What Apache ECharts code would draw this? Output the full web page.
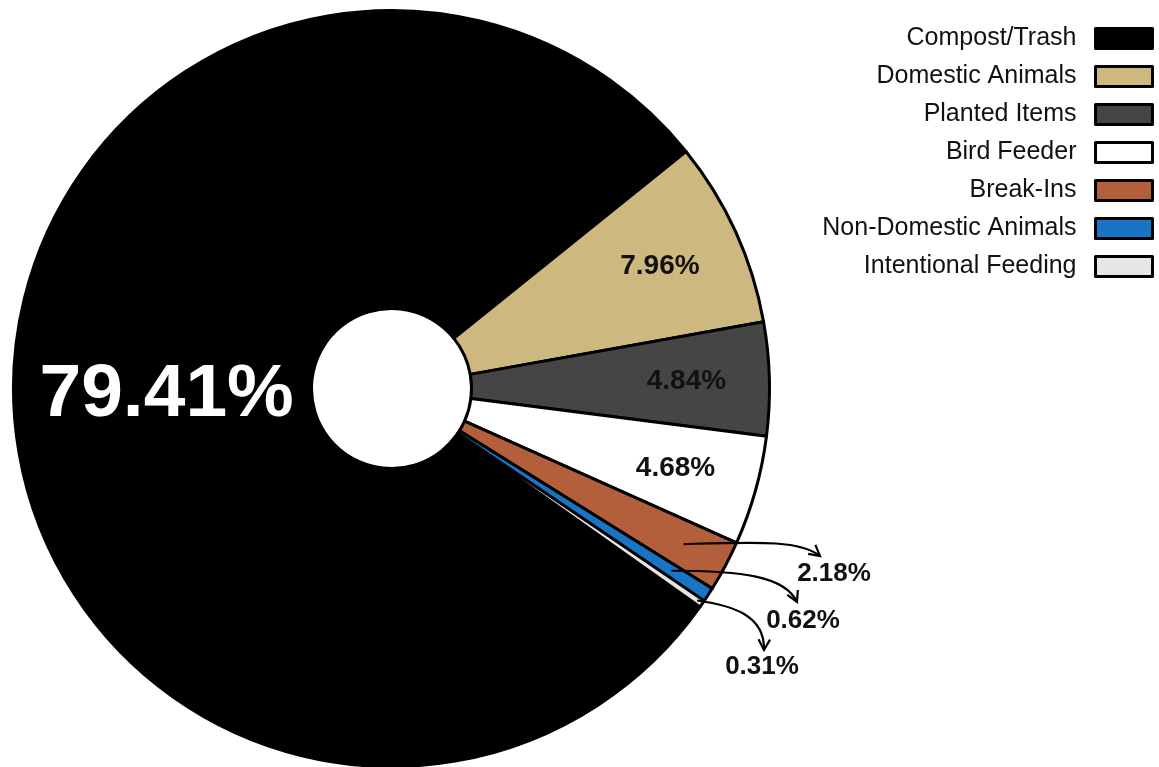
<!DOCTYPE html>
<html>
<head>
<meta charset="utf-8">
<script src="https://cdn.jsdelivr.net/npm/echarts@6/dist/echarts.min.js"></script>
<style>
  html, body { margin: 0; padding: 0; background: #fff; }
  #chart { width: 1159px; height: 767px; }
</style>
</head>
<body>
<div id="chart"></div>
<script>
// Share of incidents by attractant
const categories = [
  'Compost/Trash',
  'Domestic Animals',
  'Planted Items',
  'Bird Feeder',
  'Break-Ins',
  'Non-Domestic Animals',
  'Intentional Feeding'
];
const shares = [79.41, 7.96, 4.84, 4.68, 2.18, 0.62, 0.31];
const sliceColors = ['#000000', '#cdb880', '#454545', '#ffffff', '#b45f3b', '#1a74c6', '#e6e6e6'];

// Ring geometry
const CX = 391.5, CY = 388.5, R = 378, R0 = 80;
const START = -35.3;          // degrees, clockwise from here
const FONT = 'Liberation Sans, Arial, Helvetica, sans-serif';

// Small slices get their labels outside, joined by curved arrows
const outsideLabelPos = { 4: [834, 574], 5: [803, 621], 6: [762, 667] };
const arrowSpec = {
  4: { r: 331, c1: [75, -2], c2: [-20, -16], tip: [-14, -18] },
  5: { r: 334, c1: [70, 0], c2: [-12, -26], tip: [-6, -19] },
  6: { r: 372, c1: [35, 5], c2: [1, -35], tip: [2, -17] }
};

const total = shares.reduce((a, b) => a + b, 0);
function midAngle(i) {
  let before = 0;
  for (let k = 0; k < i; k++) before += shares[k];
  return START - (before + shares[i] / 2) / total * 360;
}
function polar(r, deg) {
  const a = deg * Math.PI / 180;
  return [CX + r * Math.cos(a), CY - r * Math.sin(a)];
}

function arrowGraphics() {
  const out = [];
  Object.keys(arrowSpec).forEach(function (key) {
    const i = +key, s = arrowSpec[key];
    const p0 = polar(s.r, midAngle(i));
    const lp = outsideLabelPos[i];
    const p3 = [lp[0] + s.tip[0], lp[1] + s.tip[1]];
    const c1 = [p0[0] + s.c1[0], p0[1] + s.c1[1]];
    const c2 = [p3[0] + s.c2[0], p3[1] + s.c2[1]];
    out.push({
      type: 'bezierCurve', silent: true, z: 10,
      shape: { x1: p0[0], y1: p0[1], cpx1: c1[0], cpy1: c1[1], cpx2: c2[0], cpy2: c2[1], x2: p3[0], y2: p3[1] },
      style: { stroke: '#000', lineWidth: 2.2, fill: null }
    });
    const dir = Math.atan2(p3[1] - c2[1], p3[0] - c2[0]);
    const len = 12, spread = 0.5;
    out.push({
      type: 'polyline', silent: true, z: 10,
      shape: { points: [
        [p3[0] - len * Math.cos(dir - spread), p3[1] - len * Math.sin(dir - spread)],
        p3,
        [p3[0] - len * Math.cos(dir + spread), p3[1] - len * Math.sin(dir + spread)]
      ] },
      style: { stroke: '#000', lineWidth: 2.2, fill: null }
    });
  });
  return out;
}

const ringData = categories.map(function (name, i) {
  return {
    name: name,
    value: shares[i],
    itemStyle: { color: sliceColors[i] },
    label: i === 0
      ? { show: true, position: 'inside', color: '#fff', fontSize: 75, fontWeight: 'bold', fontFamily: FONT, padding: [0, 0, 0, 14] }
      : { show: false }
  };
});

const labelData = categories.map(function (name, i) {
  return {
    name: name,
    value: shares[i],
    label: { show: i > 0 }
  };
});

const chart = echarts.init(document.getElementById('chart'), null, { renderer: 'canvas' });
chart.setOption({
  backgroundColor: '#ffffff',
  animation: false,
  legend: {
    orient: 'vertical',
    right: 0,
    top: 21,
    align: 'right',
    icon: 'rect',
    itemWidth: 57,
    itemHeight: 20,
    itemGap: 13,
    selectedMode: false,
    data: categories,
    itemStyle: { borderColor: '#000', borderWidth: 3 },
    textStyle: { fontFamily: FONT, fontSize: 25, color: '#111', lineHeight: 20, padding: [0, 14, 0, 0] }
  },
  graphic: arrowGraphics(),
  series: [
    {
      type: 'pie',
      name: 'ring',
      center: [CX, CY],
      radius: [R0, R],
      startAngle: START,
      clockwise: true,
      avoidLabelOverlap: false,
      silent: true,
      emphasis: { disabled: true },
      itemStyle: { borderColor: '#000', borderWidth: 3 },
      labelLine: { show: false },
      label: { formatter: function (p) { return p.value.toFixed(2) + '%'; } },
      data: ringData
    },
    {
      type: 'pie',
      name: 'labels',
      center: [CX, CY],
      radius: [206, R],
      startAngle: START,
      clockwise: true,
      avoidLabelOverlap: false,
      silent: true,
      emphasis: { disabled: true },
      z: 5,
      itemStyle: { color: 'rgba(0,0,0,0)', borderWidth: 0 },
      labelLine: { show: false },
      label: {
        position: 'inside',
        color: '#111',
        fontSize: 28,
        fontWeight: 'bold',
        fontFamily: FONT,
        formatter: function (p) { return p.value.toFixed(2) + '%'; }
      },
      labelLayout: function (params) {
        const p = outsideLabelPos[params.dataIndex];
        if (p) return { x: p[0], y: p[1], align: 'center', verticalAlign: 'middle', fontSize: 26 };
        return {};
      },
      data: labelData
    }
  ]
});
</script>
</body>
</html>
